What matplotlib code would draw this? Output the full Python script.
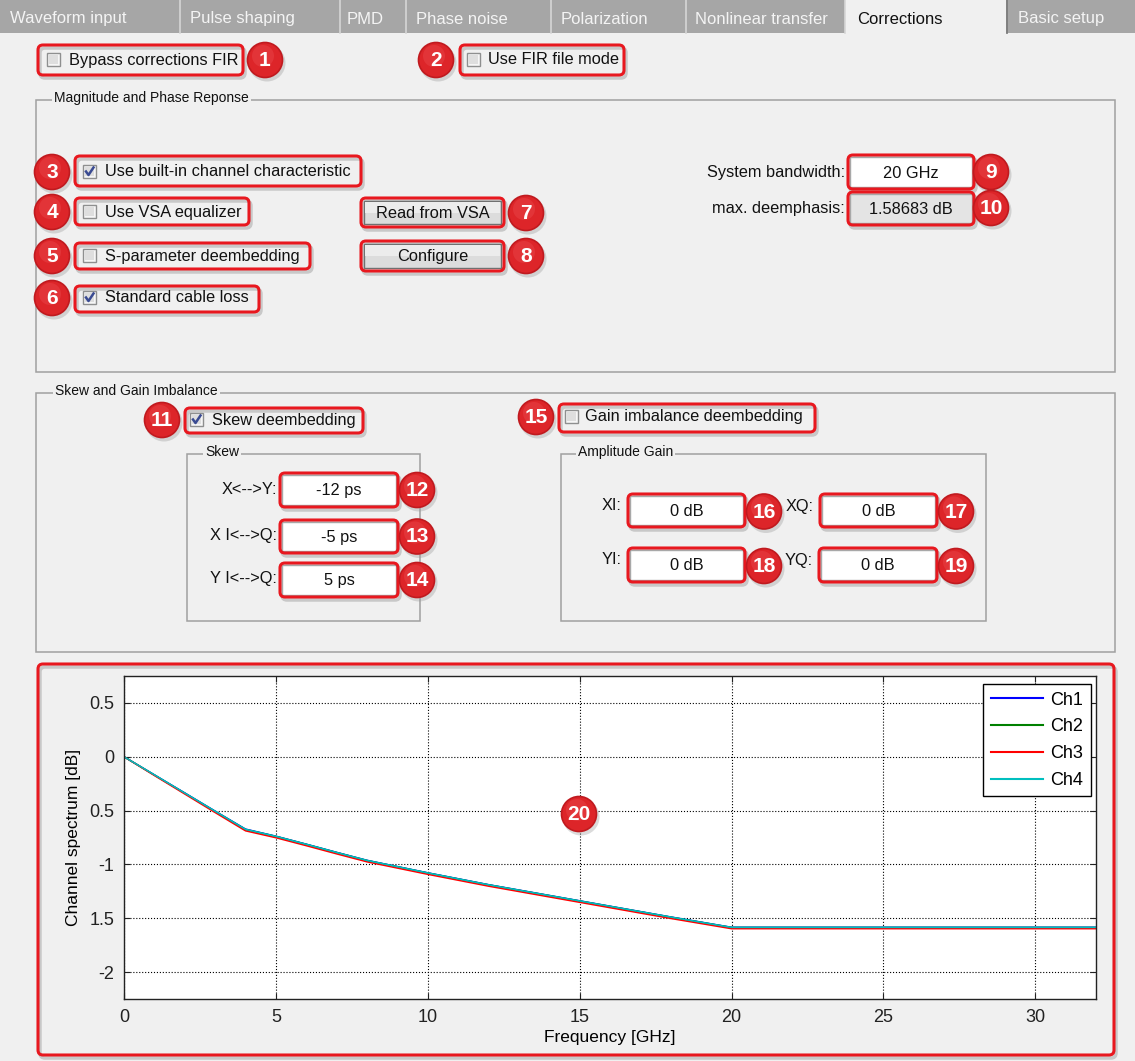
import matplotlib
matplotlib.use('Agg')
import matplotlib.pyplot as plt
from matplotlib.patches import FancyBboxPatch, Rectangle, Circle
from matplotlib.lines import Line2D

plt.rcParams['font.family'] = ['Liberation Sans', 'DejaVu Sans']

W, H = 1135, 1061

# ---- chart data ----
freq_ghz = [0, 1, 2, 3, 4, 5, 6, 7, 8, 10, 12, 14, 16, 18, 20, 32]
ch1_db = [0, -0.168, -0.336, -0.505, -0.672, -0.738, -0.812, -0.888, -0.962, -1.078, -1.188, -1.288, -1.388, -1.488, -1.584, -1.584]
ch2_db = [0, -0.170, -0.339, -0.508, -0.676, -0.740, -0.814, -0.890, -0.964, -1.080, -1.190, -1.290, -1.390, -1.490, -1.586, -1.586]
ch3_db = [0, -0.174, -0.346, -0.518, -0.688, -0.752, -0.826, -0.902, -0.976, -1.092, -1.202, -1.302, -1.402, -1.502, -1.597, -1.597]
ch4_db = [0, -0.168, -0.337, -0.506, -0.674, -0.739, -0.813, -0.889, -0.963, -1.079, -1.189, -1.289, -1.389, -1.489, -1.585, -1.585]
channels = ['Ch1', 'Ch2', 'Ch3', 'Ch4']
ch_colors = ['#0000ff', '#008000', '#ff0000', '#00bfbf']

x_ticks = [0, 5, 10, 15, 20, 25, 30]
y_ticks = [-2, -1.5, -1, -0.5, 0, 0.5]
y_tick_labels = ['-2', '1.5', '-1', '0.5', '0', '0.5']

tab_names = ['Waveform input', 'Pulse shaping', 'PMD', 'Phase noise', 'Polarization',
             'Nonlinear transfer', 'Corrections', 'Basic setup']

RED = '#e8181f'
BG = '#f0f0f0'

fig = plt.figure(figsize=(W / 100, H / 100), dpi=100, facecolor=BG)
gui = fig.add_axes([0, 0, 1, 1], zorder=0)
gui.set_xlim(0, W)
gui.set_ylim(H, 0)
gui.axis('off')


def rbox(ax, x0, y0, x1, y1, fc='none', ec=RED, lw=2.2, r=5, z=3):
    p = FancyBboxPatch((x0, y0), x1 - x0, y1 - y0,
                       boxstyle='round,pad=0,rounding_size=%g' % r,
                       fc=fc, ec=ec, lw=lw, zorder=z)
    ax.add_patch(p)


def frame(x0, y0, x1, y1):
    # soft shadow then red rounded outline
    rbox(gui, x0 + 2, y0 + 3, x1 + 2, y1 + 3, ec='#c8c8c8', lw=2.5, z=2)
    rbox(gui, x0, y0, x1, y1, lw=2.2, z=4)


def badge(ax, cx, cy, num, z=6):
    ax.add_patch(Circle((cx + 2, cy + 3), 18.5, fc='#999999', ec='none', alpha=0.35, zorder=z))
    ax.add_patch(Circle((cx, cy), 17.5, fc='#dd2529', ec='#c01a1f', lw=1.2, zorder=z + 1))
    ax.add_patch(Circle((cx - 2, cy - 4), 11, fc='#e84448', ec='none', alpha=0.5, zorder=z + 1))
    ax.text(cx, cy + 0.5, str(num), ha='center', va='center', color='white',
            fontsize=15, fontweight='bold',
            family=['Liberation Sans Narrow', 'Liberation Sans'], zorder=z + 2)


def checkbox(x, y, label, checked=False, tx=None):
    gui.add_patch(Rectangle((x, y), 13, 13, fc='#f6f6f6', ec='#8e8f8f', lw=1, zorder=5))
    gui.add_patch(Rectangle((x + 2, y + 2), 9, 9, fc='#dedede', ec='none', zorder=5))
    if checked:
        gui.add_line(Line2D([x + 3, x + 5.5, x + 10.5], [y + 6.5, y + 10, y + 2.5],
                            color='#3a4b92', lw=1.8, zorder=6))
    gui.text(x + 22 if tx is None else tx, y + 7, label, ha='left', va='center',
             fontsize=11.8, color='#111111', zorder=6)


def field(x0, y0, x1, y1, text, fc='white'):
    gui.add_patch(Rectangle((x0 + 2, y0 + 2), x1 - x0 - 4, y1 - y0 - 4, fc=fc, ec='#a8a8a8', lw=1, zorder=3))
    frame(x0, y0, x1, y1)
    gui.text((x0 + x1) / 2, (y0 + y1) / 2 + 1, text, ha='center', va='center',
             fontsize=11.8, color='#111111', zorder=6)


def button(x0, y0, x1, y1, text):
    gui.add_patch(Rectangle((x0 + 3, y0 + 3), x1 - x0 - 6, y1 - y0 - 6, fc='#dcdcdc', ec='#707070', lw=1, zorder=3))
    gui.add_patch(Rectangle((x0 + 4, y0 + 4), x1 - x0 - 8, (y1 - y0 - 8) / 2, fc='#ececec', ec='none', zorder=3))
    frame(x0, y0, x1, y1)
    gui.text((x0 + x1) / 2, (y0 + y1) / 2 + 1, text, ha='center', va='center',
             fontsize=11.8, color='#111111', zorder=6)


def group(x0, y0, x1, y1, title, tx):
    gui.add_patch(Rectangle((x0, y0), x1 - x0, y1 - y0, fc='none', ec='#a0a0a0', lw=1.1, zorder=1))
    gui.text(tx, y0 - 2, title, ha='left', va='center', fontsize=10, color='#111111', zorder=2,
             bbox=dict(fc=BG, ec='none', pad=1.5))


def label(xr, y, text):
    gui.text(xr, y, text, ha='right', va='center', fontsize=11.8, color='#111111', zorder=6)


# ---- tab bar ----
tab_edges = [0, 180, 340, 406, 551, 686, 845, 1007, W]
tab_text_x = [10, 190, 347, 416, 561, 695, 857, 1018]
gui.add_patch(Rectangle((0, 0), W, 33, fc='#a6a6a6', ec='none', zorder=1))
gui.add_patch(Rectangle((845, 0), 1007 - 845, 34, fc=BG, ec='none', zorder=2))
for e in tab_edges[1:-1]:
    gui.add_line(Line2D([e, e], [0, 33], color='#d6d6d6', lw=1.2, zorder=2))
gui.add_line(Line2D([1007, 1007], [0, 33], color='#707070', lw=1.2, zorder=3))
for name, tx in zip(tab_names, tab_text_x):
    gui.text(tx, 19, name, ha='left', va='center', fontsize=12,
             color='#111111' if name == 'Corrections' else '#f4f4f4', zorder=3)

# ---- top checkboxes ----
frame(38, 45, 243, 75)
checkbox(47, 53, 'Bypass corrections FIR', tx=69)
badge(gui, 265, 60, 1)
frame(460, 45, 624, 75)
checkbox(467, 53, 'Use FIR file mode', tx=488)
badge(gui, 436, 60, 2)

# ---- Magnitude and Phase group ----
group(36, 100, 1115, 372, 'Magnitude and Phase Reponse', 54)
frame(75, 156, 361, 186)
checkbox(83, 165, 'Use built-in channel characteristic', checked=True, tx=105)
badge(gui, 52, 172, 3)
frame(75, 198, 249, 225)
checkbox(83, 205, 'Use VSA equalizer', tx=105)
badge(gui, 52, 212, 4)
frame(75, 243, 310, 269)
checkbox(83, 249, 'S-parameter deembedding', tx=105)
badge(gui, 52, 256, 5)
frame(75, 286, 259, 312)
checkbox(83, 291, 'Standard cable loss', checked=True, tx=105)
badge(gui, 52, 298, 6)

button(361, 198, 504, 227, 'Read from VSA')
badge(gui, 526, 213, 7)
button(361, 241, 504, 271, 'Configure')
badge(gui, 526, 256, 8)

label(845, 173, 'System bandwidth:')
field(848, 155, 974, 189, '20 GHz')
badge(gui, 991, 172, 9)
label(845, 208, 'max. deemphasis:')
field(848, 192, 974, 225, '1.58683 dB', fc='#e4e4e4')
badge(gui, 991, 208, 10)

# ---- Skew and Gain group ----
group(36, 393, 1115, 652, 'Skew and Gain Imbalance', 55)
frame(185, 408, 363, 433)
checkbox(190, 413, 'Skew deembedding', checked=True, tx=212)
badge(gui, 162, 420, 11)

group(187, 454, 420, 621, 'Skew', 205)
skew_labels = ['X<-->Y:', 'X I<-->Q:', 'Y I<-->Q:']
skew_values = ['-12 ps', '-5 ps', '5 ps']
skew_rows = [(473, 507), (520, 553), (563, 597)]
for i, (lab, val, (y0, y1)) in enumerate(zip(skew_labels, skew_values, skew_rows)):
    label(277, (y0 + y1) / 2 - 1, lab)
    field(280, y0, 398, y1, val)
    badge(gui, 417, (y0 + y1) / 2, 12 + i)

frame(559, 404, 815, 432)
checkbox(565, 410, 'Gain imbalance deembedding', tx=585)
badge(gui, 536, 417, 15)

group(561, 454, 986, 621, 'Amplitude Gain', 578)
gain_labels = ['XI:', 'XQ:', 'YI:', 'YQ:']
gain_values = ['0 dB', '0 dB', '0 dB', '0 dB']
gain_cells = [(628, 494, 745, 527), (820, 494, 937, 527), (628, 548, 745, 582), (819, 548, 937, 582)]
for i, (lab, val, (x0, y0, x1, y1)) in enumerate(zip(gain_labels, gain_values, gain_cells)):
    label(x0 - 6, y0 + 12, lab)
    field(x0, y0, x1, y1, val)
    badge(gui, x1 + 19, (y0 + y1) / 2 + 1, 16 + i)

# ---- plot frame ----
frame(38, 664, 1114, 1055)

# ---- channel spectrum plot ----
ax = fig.add_axes([124 / W, 1 - 999 / H, (1096 - 124) / W, (999 - 676) / H], zorder=2)
ax.set_facecolor('white')
for name, col, vals in zip(channels, ch_colors, [ch1_db, ch2_db, ch3_db, ch4_db]):
    ax.plot(freq_ghz, vals, color=col, lw=1.1, label=name)
ax.set_xlim(0, 32)
ax.set_ylim(-2.25, 0.75)
ax.set_xticks(x_ticks)
ax.set_yticks(y_ticks)
ax.set_yticklabels(y_tick_labels)
ax.grid(True, color='black', linestyle=':', lw=0.8)
ax.tick_params(direction='in', top=True, right=True, length=4, width=0.8,
               labelsize=13, colors='#222222', pad=7)
for s in ax.spines.values():
    s.set_color('#222222')
    s.set_linewidth(1.0)
ax.set_xlabel('Frequency [GHz]', fontsize=12.5, labelpad=3)
ax.set_ylabel('Channel spectrum [dB]', fontsize=12.5, labelpad=6)
leg = ax.legend(loc='upper right', bbox_to_anchor=(1091 / W, 1 - 684 / H),
                bbox_transform=fig.transFigure, fontsize=13, frameon=True,
                fancybox=False, framealpha=1, edgecolor='black', borderaxespad=0,
                handlelength=2.9, labelspacing=0.54, borderpad=0.42, handletextpad=0.4)
leg.get_frame().set_linewidth(1.0)
for ln in leg.get_lines():
    ln.set_linewidth(1.5)

top = fig.add_axes([0, 0, 1, 1], zorder=3)
top.set_xlim(0, W)
top.set_ylim(H, 0)
top.axis('off')
top.patch.set_alpha(0)
badge(top, 579, 814, 20)

fig.savefig('out.png', dpi=100, facecolor=BG)
